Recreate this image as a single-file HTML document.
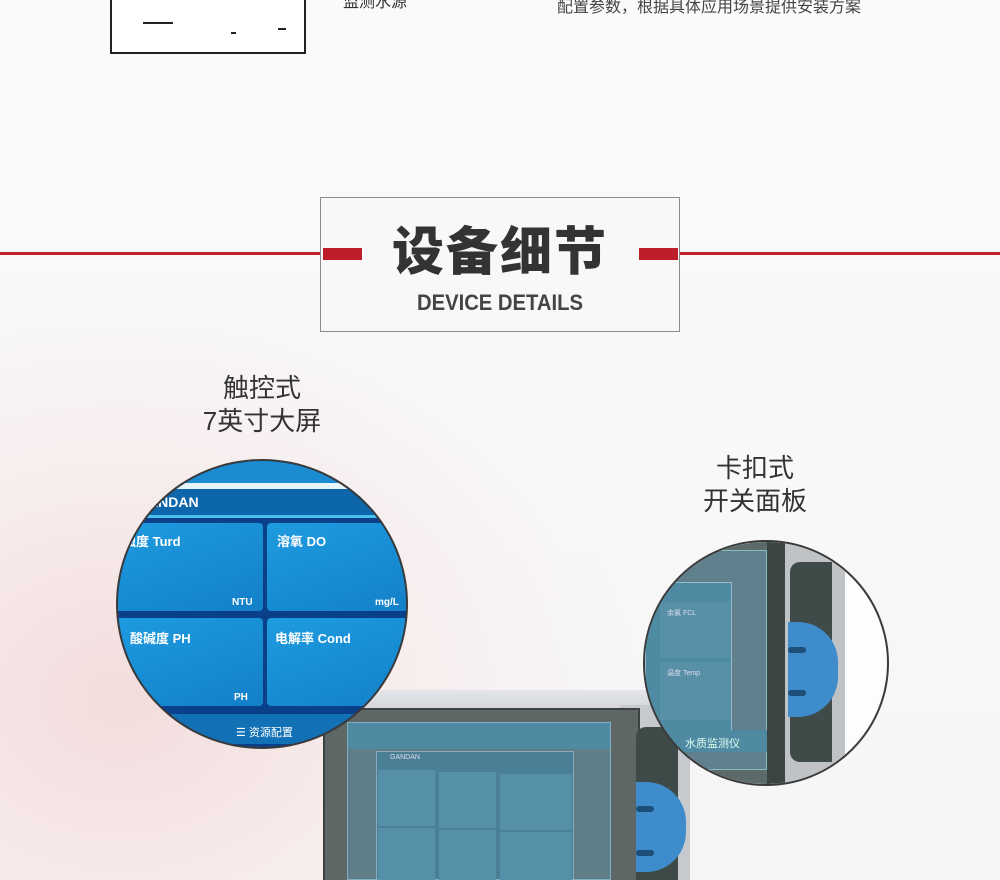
<!DOCTYPE html>
<html><head><meta charset="utf-8"><style>
*{margin:0;padding:0;box-sizing:border-box}
body{width:1000px;height:880px;overflow:hidden;position:relative;font-family:"Liberation Sans","Noto Sans CJK SC",sans-serif;
background:radial-gradient(ellipse 520px 420px at 120px 700px,#f3dcdc 0%,#f7ecec 50%,rgba(250,250,250,0) 100%),linear-gradient(#fafafa,#f6f6f6);}
.a{position:absolute}
.cj{font-family:"Liberation Sans","Noto Sans CJK SC",sans-serif}
.circ{position:absolute;border-radius:50%;overflow:hidden;border:2px solid #3a3a3a}
.card{position:absolute;background:linear-gradient(160deg,#1e9be0,#1380c8);border-radius:4px;color:#fff;font-weight:bold;font-size:13px}
</style></head><body>
<div class="a" style="left:110px;top:-10px;width:196px;height:64px;border:2px solid #222;background:#fff"></div>
<div class="a" style="left:143px;top:22px;width:30px;height:2px;background:#222"></div>
<div class="a" style="left:231px;top:32px;width:5px;height:2px;background:#222"></div>
<div class="a" style="left:278px;top:28px;width:8px;height:2px;background:#222"></div>
<div class="a cj" style="left:343px;top:-12px;font-size:16px;color:#333">监测水源</div>
<div class="a cj" style="left:557px;top:-7px;font-size:16px;color:#444">配置参数，根据具体应用场景提供安装方案</div>

<div class="a" style="left:0;top:252px;width:1000px;height:3px;background:#c0202a"></div>
<div class="a" style="left:320px;top:197px;width:360px;height:135px;border:1px solid #8a8a8a;background:#f8f8f8"></div>
<div class="a" style="left:323px;top:248px;width:39px;height:12px;background:#be1e2a"></div>
<div class="a" style="left:639px;top:248px;width:39px;height:12px;background:#be1e2a"></div>
<div class="a cj" style="left:320px;top:218px;width:360px;text-align:center;font-size:52px;font-weight:900;color:#333;letter-spacing:2px;line-height:70px">设备细节</div>
<div class="a" style="left:320px;top:290px;width:360px;text-align:center;font-size:22px;font-weight:bold;color:#444;line-height:26px;transform:scaleX(0.92)">DEVICE DETAILS</div>

<div class="a cj" style="left:172px;top:372px;width:180px;text-align:center;font-size:26px;color:#333;line-height:33px">触控式<br>7英寸大屏</div>
<div class="a cj" style="left:665px;top:452px;width:180px;text-align:center;font-size:26px;color:#333;line-height:33px">卡扣式<br>开关面板</div>

<div class="a" style="left:330px;top:690px;width:360px;height:30px;background:linear-gradient(#e4e6ea,#c9ccd2);clip-path:polygon(0 100%,5% 0,95% 0,100% 100%)"></div>
<div class="a" style="left:620px;top:705px;width:70px;height:175px;background:#c6c9ce"></div>
<div class="a" style="left:323px;top:708px;width:317px;height:172px;background:#5e6766;border:2px solid #3b4242;border-bottom:none"></div>
<div class="a" style="left:347px;top:722px;width:264px;height:158px;background:#5f7e88;border:1px solid #7fb0c4"></div>
<div class="a" style="left:348px;top:723px;width:262px;height:26px;background:#4f8aa2"></div>
<div class="a" style="left:376px;top:751px;width:198px;height:129px;background:#4a7f95;border:1px solid #8ab"></div>
<div class="a" style="left:390px;top:754px;font-size:7px;color:#dde">GANDAN</div>
<div class="a" style="left:378px;top:770px;width:57px;height:56px;background:#5690a8"></div>
<div class="a" style="left:439px;top:772px;width:57px;height:56px;background:#5690a8"></div>
<div class="a" style="left:500px;top:774px;width:72px;height:56px;background:#5690a8"></div>
<div class="a" style="left:378px;top:828px;width:57px;height:52px;background:#5690a8"></div>
<div class="a" style="left:439px;top:830px;width:57px;height:50px;background:#5690a8"></div>
<div class="a" style="left:500px;top:832px;width:72px;height:48px;background:#5690a8"></div>
<div class="a" style="left:636px;top:727px;width:42px;height:153px;background:#3e4a48;border-radius:10px 0 0 0"></div>
<div class="a" style="left:636px;top:782px;width:50px;height:90px;background:#3f8ccc;border-radius:0 40px 40px 0"></div>
<div class="a" style="left:636px;top:806px;width:18px;height:6px;background:#1d4f78;border-radius:3px"></div>
<div class="a" style="left:636px;top:850px;width:18px;height:6px;background:#1d4f78;border-radius:3px"></div>

<div class="circ" style="left:116px;top:459px;width:292px;height:290px;background:#0a3f8a">
 <div class="a" style="left:0;top:0;width:300px;height:22px;background:#1b8bd2"></div>
 <div class="a" style="left:0;top:22px;width:300px;height:6px;background:#e8f4fb"></div>
 <div class="a" style="left:0;top:28px;width:300px;height:26px;background:#0e66aa"></div>
 <div class="a" style="left:30px;top:33px;font-size:14px;color:#fff;font-weight:bold">ANDAN</div>
 <div class="a" style="left:0;top:54px;width:300px;height:3px;background:#4ac0ef"></div>
 <div class="card" style="left:-10px;top:62px;width:155px;height:88px"><span class="a" style="left:15px;top:8px">浊度 Turd</span><span class="a" style="left:124px;top:74px;font-size:10px">NTU</span></div>
 <div class="card" style="left:149px;top:62px;width:150px;height:88px"><span class="a" style="left:10px;top:8px">溶氧 DO</span><span class="a" style="left:108px;top:74px;font-size:10px">mg/L</span></div>
 <div class="card" style="left:-10px;top:157px;width:155px;height:88px"><span class="a" style="left:22px;top:10px">酸碱度 PH</span><span class="a" style="left:126px;top:74px;font-size:10px">PH</span></div>
 <div class="card" style="left:149px;top:157px;width:150px;height:88px"><span class="a" style="left:8px;top:10px">电解率 Cond</span></div>
 <div class="a" style="left:0;top:253px;width:300px;height:30px;background:#1270b5"></div>
 <div class="a" style="left:118px;top:263px;font-size:11px;color:#fff">☰ 资源配置</div>
</div>

<div class="circ" style="left:643px;top:540px;width:246px;height:246px;background:#fdfdfd">
 <div class="a" style="left:0;top:0;width:125px;height:246px;background:#5b6b6a"></div>
 <div class="a" style="left:0;top:8px;width:122px;height:220px;background:#5f808c;border:1px solid #8bb"></div>
 <div class="a" style="left:0;top:40px;width:87px;height:170px;background:#4e8aa2;border:1px solid #9bc"></div>
 <div class="a" style="left:15px;top:60px;width:70px;height:56px;background:#5890a8"></div>
 <div class="a" style="left:15px;top:120px;width:70px;height:58px;background:#5890a8"></div>
 <div class="a" style="left:22px;top:66px;font-size:7px;color:#dde">余氯 FCL</div>
 <div class="a" style="left:22px;top:126px;font-size:7px;color:#dde">温度 Temp</div>
 <div class="a" style="left:30px;top:188px;width:95px;height:22px;background:#4f8aa2"></div>
 <div class="a cj" style="left:40px;top:193px;font-size:11px;color:#dfe">水质监测仪</div>
 <div class="a" style="left:122px;top:0;width:18px;height:246px;background:#3b4544"></div>
 <div class="a" style="left:140px;top:0;width:60px;height:246px;background:#bfc3c6"></div>
 <div class="a" style="left:145px;top:20px;width:42px;height:200px;background:#3f4b49;border-radius:10px 0 0 10px"></div>
 <div class="a" style="left:143px;top:80px;width:50px;height:95px;background:#3f8ccc;border-radius:0 40px 40px 0"></div>
 <div class="a" style="left:143px;top:105px;width:18px;height:6px;background:#1d4f78;border-radius:3px"></div>
 <div class="a" style="left:143px;top:148px;width:18px;height:6px;background:#1d4f78;border-radius:3px"></div>
</div>
</body></html>
